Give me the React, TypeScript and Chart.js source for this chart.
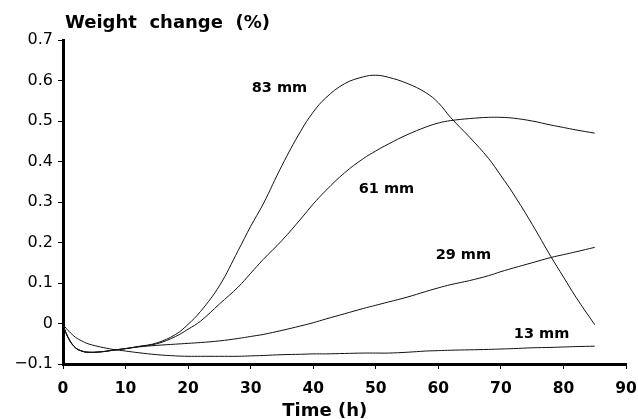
import React, { useEffect, useRef } from "react";
import { Chart, registerables } from "chart.js";

Chart.register(...registerables);

const times = [0, 1, 2, 3, 4, 6, 8, 10, 12, 15, 18, 20, 22, 25, 28, 30, 32, 35, 38, 40, 42, 45, 48, 50, 52, 55, 58, 60, 62, 65, 68, 70, 72, 75, 78, 80, 82, 85];

const s83 = [-0.005, -0.04, -0.06, -0.068, -0.071, -0.07, -0.066, -0.062, -0.057, -0.048, -0.027, -0.002, 0.03, 0.093, 0.18, 0.24, 0.295, 0.39, 0.475, 0.522, 0.557, 0.592, 0.609, 0.613, 0.608, 0.593, 0.57, 0.545, 0.508, 0.46, 0.408, 0.365, 0.32, 0.245, 0.165, 0.115, 0.065, -0.003];

const s61 = [-0.005, -0.04, -0.06, -0.068, -0.071, -0.07, -0.066, -0.062, -0.057, -0.05, -0.032, -0.014, 0.006, 0.048, 0.09, 0.124, 0.158, 0.205, 0.258, 0.295, 0.328, 0.372, 0.407, 0.426, 0.443, 0.466, 0.485, 0.495, 0.501, 0.506, 0.509, 0.509, 0.507, 0.5, 0.49, 0.484, 0.478, 0.47];

const s29 = [-0.005, -0.04, -0.06, -0.068, -0.071, -0.07, -0.066, -0.062, -0.058, -0.054, -0.051, -0.049, -0.047, -0.043, -0.037, -0.032, -0.027, -0.017, -0.006, 0.002, 0.011, 0.024, 0.037, 0.045, 0.053, 0.065, 0.079, 0.088, 0.096, 0.106, 0.118, 0.128, 0.137, 0.15, 0.163, 0.17, 0.177, 0.188];

const s13 = [-0.003, -0.02, -0.034, -0.043, -0.05, -0.058, -0.064, -0.068, -0.072, -0.077, -0.08, -0.081, -0.081, -0.081, -0.081, -0.08, -0.079, -0.077, -0.076, -0.075, -0.075, -0.074, -0.073, -0.073, -0.073, -0.071, -0.068, -0.067, -0.066, -0.065, -0.064, -0.063, -0.062, -0.06, -0.059, -0.058, -0.057, -0.056];

const seriesNames = ["83 mm", "61 mm", "29 mm", "13 mm"];
const seriesValues = [s83, s61, s29, s13];

const labelTexts = ["83 mm", "61 mm", "29 mm", "13 mm"];
const labelTimes = [34.6, 51.7, 64.0, 76.5];
const labelValues = [0.582, 0.331, 0.169, -0.026];

const xTicks = [0, 10, 20, 30, 40, 50, 60, 70, 80, 90];
const yTitle = "Weight  change  (%)";
const xTitle = "Time (h)";

const FONT = "'DejaVu Sans', 'Liberation Sans', sans-serif";

export default function App() {
  const ref = useRef<HTMLCanvasElement | null>(null);

  useEffect(() => {
    if (!ref.current) return;
    const textPlugin = {
      id: "texts",
      afterDraw(chart: any) {
        const { ctx, chartArea, scales } = chart;
        ctx.save();
        ctx.fillStyle = "#000";
        ctx.textBaseline = "middle";
        ctx.font = `bold 14.5px ${FONT}`;
        ctx.textAlign = "center";
        for (let i = 0; i < labelTexts.length; i++) {
          const px = scales.x.getPixelForValue(labelTimes[i]);
          const py = scales.y.getPixelForValue(labelValues[i]);
          ctx.fillText(labelTexts[i], px, py);
        }
        ctx.font = `bold 18px ${FONT}`;
        ctx.textAlign = "left";
        ctx.fillText(yTitle, chartArea.left + 2, chartArea.top - 17);
        ctx.textAlign = "center";
        ctx.fillText(xTitle, chartArea.left + (chartArea.right - chartArea.left) * 0.465, chartArea.bottom + 47);
        ctx.restore();
      },
    };

    const chart = new Chart(ref.current, {
      type: "line",
      data: {
        datasets: seriesValues.map((vals, i) => ({
          label: seriesNames[i],
          data: times.map((t, j) => ({ x: t, y: vals[j] })),
          borderColor: "#111",
          borderWidth: 1,
          pointRadius: 0,
          fill: false,
          tension: 0.4,
        })),
      },
      options: {
        responsive: false,
        animation: false,
        events: [],
        layout: { padding: { left: 0, top: 40, right: 12, bottom: 0 } },
        plugins: { legend: { display: false }, tooltip: { enabled: false }, title: { display: false } },
        scales: {
          x: {
            type: "linear",
            min: 0,
            max: 90,
            afterBuildTicks: (axis: any) => {
              axis.ticks = xTicks.map((v) => ({ value: v }));
            },
            afterFit: (axis: any) => {
              axis.height = 55;
              axis.paddingLeft = 0;
              axis.paddingRight = 0;
            },
            grid: { display: true, drawOnChartArea: false, drawTicks: true, tickLength: 5, color: "#000", lineWidth: 1 },
            border: { display: true, color: "#000", width: 3 },
            ticks: {
              color: "#000",
              padding: 11,
              maxRotation: 0,
              font: { family: FONT, size: 15.5, weight: "bold" },
            },
          },
          y: {
            type: "linear",
            min: -0.1,
            max: 0.7,
            afterFit: (axis: any) => {
              axis.width = 63;
              axis.paddingTop = 0;
              axis.paddingBottom = 0;
            },
            grid: { display: true, drawOnChartArea: false, drawTicks: true, tickLength: 5, color: "#000", lineWidth: 1 },
            border: { display: true, color: "#000", width: 3 },
            ticks: {
              stepSize: 0.1,
              color: "#000",
              padding: 5,
              font: { family: FONT, size: 16 },
              callback: (v: any) => {
                const r = Math.round(Number(v) * 10) / 10;
                if (r === 0) return "0";
                if (r < 0) return "\u2212" + Math.abs(r).toFixed(1);
                return r.toFixed(1);
              },
            },
          },
        },
      },
      plugins: [textPlugin],
    });
    return () => chart.destroy();
  }, []);

  return (
    <div style={{ position: "fixed", left: 0, top: 0, width: 638, height: 419, background: "#fff" }}>
      <canvas ref={ref} width={638} height={419} style={{ width: 638, height: 419, display: "block" }} />
    </div>
  );
}
